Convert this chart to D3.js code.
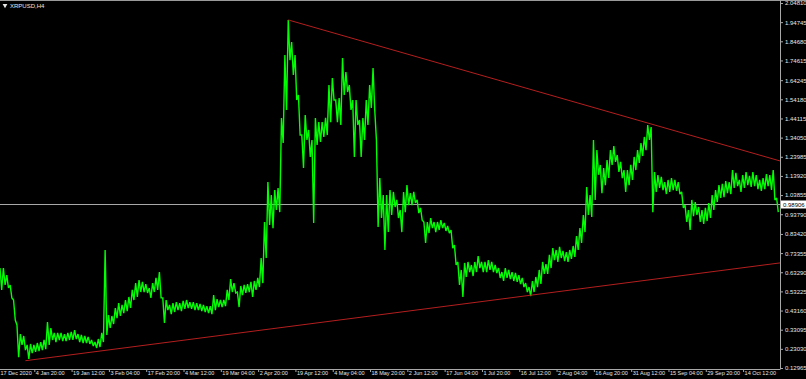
<!DOCTYPE html>
<html>
<head>
<meta charset="utf-8">
<script src="https://cdn.jsdelivr.net/npm/d3@7"></script>
<style>
  html, body { margin: 0; padding: 0; background: #000; }
  svg { display: block; }
  text { font-family: "Liberation Sans", Arial, sans-serif; }
</style>
</head>
<body>
<script>
var w = 806;
var h = 379;
var plotRight = 780;
var plotBottom = 369;

// XRPUSD H4, every sample groups 8 bars (32 hours)
var hi = [
  0.655, 0.655, 0.618, 0.566, 0.487, 0.356, 0.308, 0.298, 0.251, 0.256,
  0.251, 0.261, 0.266, 0.277, 0.371, 0.340, 0.314, 0.314, 0.314, 0.308,
  0.314, 0.319, 0.329, 0.308, 0.303, 0.298, 0.293, 0.277, 0.266, 0.282,
  0.314, 0.750, 0.408, 0.403, 0.445, 0.471, 0.461, 0.487, 0.503, 0.540,
  0.576, 0.592, 0.582, 0.571, 0.550, 0.576, 0.603, 0.634, 0.498, 0.487,
  0.461, 0.471, 0.476, 0.471, 0.482, 0.487, 0.476, 0.476, 0.471, 0.466,
  0.461, 0.455, 0.455, 0.513, 0.492, 0.487, 0.487, 0.540, 0.597, 0.576,
  0.529, 0.561, 0.566, 0.571, 0.582, 0.587, 0.603, 0.708, 0.897, 1.107,
  1.039, 1.065, 1.076, 1.444, 1.775, 1.959, 1.843, 1.775, 1.565, 1.354,
  1.459, 1.381, 1.328, 1.444, 1.422, 1.422, 1.444, 1.617, 1.654, 1.538,
  1.549, 1.759, 1.685, 1.617, 1.538, 1.538, 1.433, 1.444, 1.538, 1.617,
  1.706, 1.328, 1.128, 1.039, 1.039, 1.065, 1.055, 1.013, 0.960, 1.055,
  1.091, 1.049, 1.055, 1.013, 0.971, 0.897, 0.897, 0.918, 0.897, 0.897,
  0.907, 0.892, 0.876, 0.855, 0.776, 0.687, 0.645, 0.682, 0.687, 0.671,
  0.687, 0.718, 0.687, 0.687, 0.697, 0.687, 0.671, 0.655, 0.634, 0.655,
  0.645, 0.634, 0.629, 0.618, 0.603, 0.576, 0.555, 0.587, 0.608, 0.645,
  0.687, 0.676, 0.724, 0.760, 0.750, 0.766, 0.745, 0.739, 0.750, 0.771,
  0.823, 0.865, 0.934, 1.081, 1.039, 1.328, 1.275, 1.197, 1.181, 1.223,
  1.275, 1.296, 1.249, 1.213, 1.170, 1.170, 1.197, 1.239, 1.275, 1.312,
  1.344, 1.407, 1.396, 1.160, 1.144, 1.134, 1.107, 1.118, 1.128, 1.118,
  1.107, 1.055, 0.986, 0.960, 1.013, 1.002, 0.976, 0.960, 0.971, 0.997,
  1.039, 1.065, 1.091, 1.097, 1.112, 1.107, 1.170, 1.155, 1.118, 1.144,
  1.160, 1.139, 1.160, 1.144, 1.118, 1.128, 1.149, 1.144, 1.170, 1.023
];
var lo = [
  0.540, 0.566, 0.550, 0.498, 0.382, 0.187, 0.251, 0.224, 0.177, 0.208,
  0.214, 0.219, 0.224, 0.229, 0.251, 0.277, 0.266, 0.277, 0.271, 0.271,
  0.277, 0.277, 0.282, 0.266, 0.261, 0.261, 0.256, 0.245, 0.235, 0.240,
  0.266, 0.303, 0.340, 0.361, 0.392, 0.403, 0.418, 0.429, 0.445, 0.487,
  0.503, 0.529, 0.529, 0.524, 0.498, 0.529, 0.540, 0.498, 0.366, 0.434,
  0.413, 0.424, 0.434, 0.429, 0.440, 0.445, 0.440, 0.434, 0.434, 0.429,
  0.424, 0.418, 0.413, 0.434, 0.450, 0.450, 0.455, 0.487, 0.529, 0.524,
  0.450, 0.513, 0.524, 0.529, 0.503, 0.540, 0.555, 0.576, 0.708, 0.881,
  0.865, 0.960, 0.949, 1.312, 1.486, 1.748, 1.670, 1.538, 1.354, 1.181,
  1.328, 1.239, 0.892, 1.302, 1.318, 1.344, 1.354, 1.422, 1.538, 1.422,
  1.407, 1.565, 1.580, 1.486, 1.239, 1.407, 1.239, 1.328, 1.407, 1.496,
  1.486, 0.871, 0.918, 0.750, 0.844, 0.934, 0.976, 0.918, 0.844, 0.949,
  0.986, 0.986, 0.997, 0.944, 0.907, 0.787, 0.839, 0.865, 0.844, 0.855,
  0.865, 0.850, 0.839, 0.760, 0.671, 0.566, 0.503, 0.608, 0.634, 0.613,
  0.634, 0.655, 0.634, 0.634, 0.645, 0.634, 0.629, 0.603, 0.587, 0.603,
  0.597, 0.587, 0.582, 0.571, 0.555, 0.529, 0.508, 0.529, 0.555, 0.571,
  0.624, 0.624, 0.655, 0.697, 0.687, 0.708, 0.692, 0.687, 0.703, 0.713,
  0.750, 0.787, 0.844, 0.934, 0.923, 1.013, 1.145, 1.049, 1.091, 1.128,
  1.197, 1.213, 1.160, 1.128, 1.055, 1.091, 1.118, 1.170, 1.207, 1.244,
  1.275, 1.328, 0.949, 1.055, 1.076, 1.065, 1.044, 1.055, 1.065, 1.060,
  1.044, 0.971, 0.897, 0.855, 0.928, 0.934, 0.897, 0.887, 0.902, 0.918,
  0.960, 1.002, 1.023, 1.028, 1.049, 1.044, 1.076, 1.086, 1.055, 1.076,
  1.091, 1.081, 1.086, 1.070, 1.060, 1.070, 1.086, 1.065, 1.013, 0.949
];

var timeLabels = [
  "17 Dec 2020", "4 Jan 20:00", "19 Jan 12:00", "3 Feb 04:00", "17 Feb 20:00",
  "4 Mar 12:00", "19 Mar 04:00", "2 Apr 20:00", "19 Apr 12:00", "4 May 04:00",
  "18 May 20:00", "2 Jun 12:00", "17 Jun 04:00", "1 Jul 20:00", "16 Jul 12:00",
  "2 Aug 04:00", "16 Aug 20:00", "31 Aug 12:00", "15 Sep 04:00", "29 Sep 20:00",
  "14 Oct 12:00"
];
var samplesPerLabel = 11;

var priceTicks = [
  2.04810, 1.94745, 1.84680, 1.74615, 1.64245, 1.54180, 1.44115, 1.34050,
  1.23985, 1.13920, 1.03855, 0.93790, 0.83420, 0.73355, 0.63290, 0.53225,
  0.43160, 0.33095, 0.23030, 0.12965
];
var bid = 0.98906;

// trend lines: start point (sample, price) and price at the right edge
var upperLine = [[85, 1.959], [230, 1.218]];
var lowerLine = [[7.5, 0.168], [230, 0.682]];

var n = hi.length;

// scales
var xScale = d3.scaleLinear().domain([0, 230]).range([0, plotRight]);
var yScale = d3.scaleLinear().domain([0.12965, 2.04810]).range([368, 3]);

var svg = d3.select("body").append("svg").attr("width", w).attr("height", h);
svg.append("rect").attr("width", w).attr("height", h).attr("fill", "#000");

// top frame line
svg.append("line")
  .attr("x1", 0).attr("x2", w).attr("y1", 0.5).attr("y2", 0.5)
  .attr("stroke", "#9a9a9a");

// bid line
var bidY = Math.round(yScale(bid)) + 0.5;
svg.append("line")
  .attr("x1", 0).attr("x2", plotRight)
  .attr("y1", bidY).attr("y2", bidY)
  .attr("stroke", "#a8a8a8").attr("stroke-width", 1);

// bars: zigzag from each sample's high to its low, then on to the next high
var pts = [];
d3.range(n).forEach(function (i) {
  pts.push([i, hi[i]]);
  pts.push([i + 0.5, lo[i]]);
});
var zigzag = d3.line()
  .x(function (d) { return xScale(d[0]); })
  .y(function (d) { return yScale(d[1]); });

svg.append("path")
  .attr("d", zigzag(pts))
  .attr("fill", "none")
  .attr("stroke", "#00ff00")
  .attr("stroke-width", 1.4)
  .attr("stroke-linejoin", "miter")
  .attr("stroke-miterlimit", 2);

// trend lines
function drawTrend(p) {
  svg.append("line")
    .attr("x1", xScale(p[0][0])).attr("y1", yScale(p[0][1]))
    .attr("x2", xScale(p[1][0])).attr("y2", yScale(p[1][1]))
    .attr("stroke", "#b41e1e").attr("stroke-width", 1);
}
drawTrend(upperLine);
drawTrend(lowerLine);

// price axis
var yAxis = d3.axisRight(yScale)
  .tickValues(priceTicks)
  .tickSize(3)
  .tickPadding(2)
  .tickFormat(d3.format(".5f"));

var gy = svg.append("g")
  .attr("transform", "translate(" + plotRight + ",0)")
  .call(yAxis);
gy.select(".domain").attr("d", "M0.5,0V" + plotBottom).attr("stroke", "#a8a8a8");
gy.selectAll(".tick line").attr("stroke", "#a8a8a8");
gy.selectAll(".tick text")
  .attr("fill", "#e6e6e6")
  .style("font-size", "6px");

// time axis
var xAxis = d3.axisBottom(xScale)
  .tickValues(timeLabels.map(function (d, i) { return i * samplesPerLabel; }))
  .tickSize(3)
  .tickFormat(function (d, i) { return timeLabels[i]; });

var gx = svg.append("g")
  .attr("transform", "translate(0," + plotBottom + ")")
  .call(xAxis);
gx.select(".domain").attr("d", "M0,0.5H" + (plotRight + 0.5)).attr("stroke", "#a8a8a8");
gx.selectAll(".tick line").attr("stroke", "#a8a8a8").attr("x1", -3).attr("x2", -3);
gx.selectAll(".tick text")
  .attr("text-anchor", "start")
  .attr("x", -2)
  .attr("y", 2)
  .attr("fill", "#e6e6e6")
  .style("font-size", "5.5px");
gx.select(".tick").select("line").remove();
gx.select(".tick").select("text").attr("x", 0);

// bid label on price axis
var by = yScale(bid);
svg.append("rect")
  .attr("x", plotRight + 1).attr("y", by - 4)
  .attr("width", 25).attr("height", 8)
  .attr("fill", "#ffffff");
svg.append("text")
  .attr("x", plotRight + 3).attr("y", by + 2.2)
  .attr("fill", "#000")
  .style("font-size", "6px")
  .text(d3.format(".5f")(bid));

// symbol caption
svg.append("path")
  .attr("d", d3.symbol(d3.symbolTriangle, 10)())
  .attr("transform", "translate(5,5.5) rotate(180)")
  .attr("fill", "#e6e6e6");
svg.append("text")
  .attr("x", 10).attr("y", 8)
  .attr("fill", "#e6e6e6")
  .style("font-size", "6px")
  .text("XRPUSD,H4");
</script>
</body>
</html>
